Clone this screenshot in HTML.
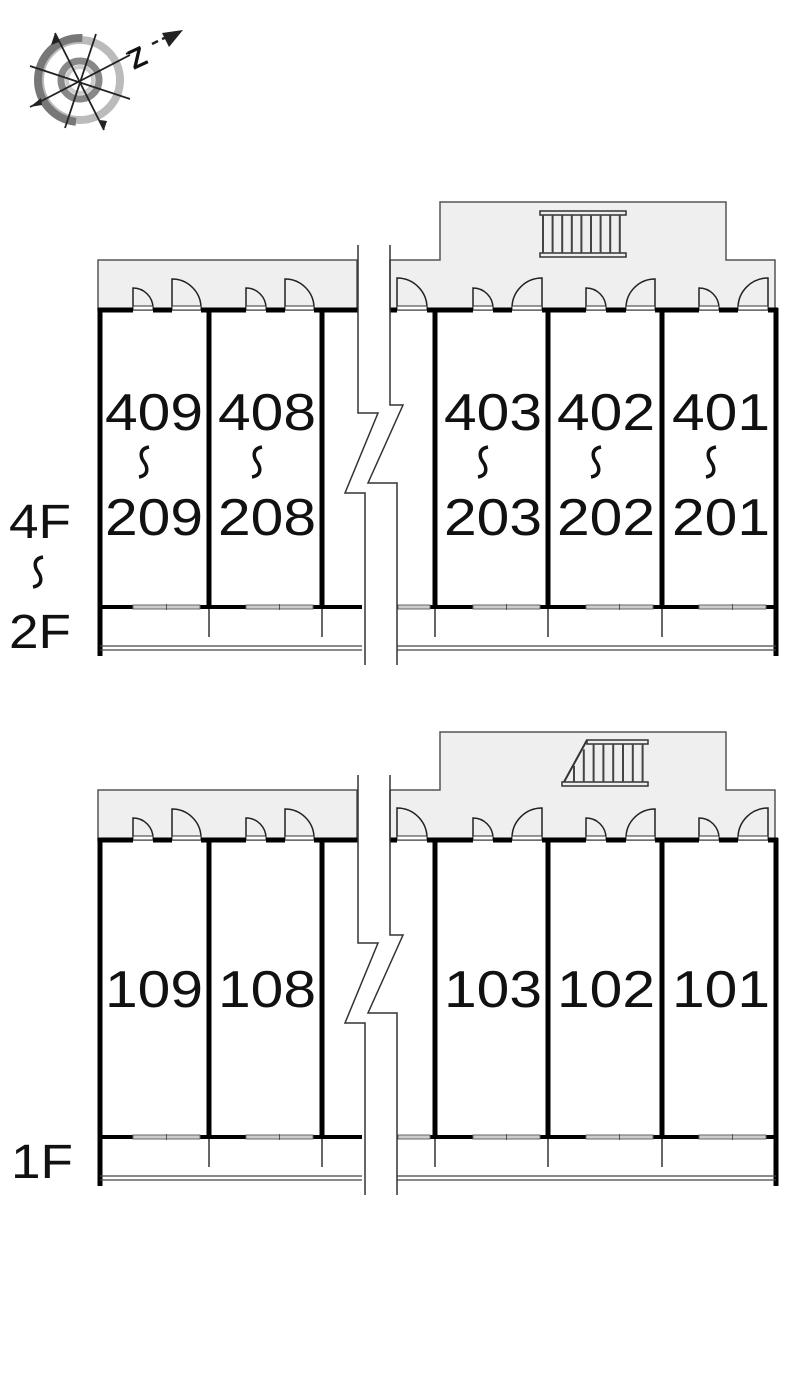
<!DOCTYPE html>
<html><head><meta charset="utf-8"><style>
html,body{margin:0;padding:0;background:#fff;width:800px;height:1373px;overflow:hidden}
svg{display:block}
text{font-family:"Liberation Sans",sans-serif;fill:#111}
</style></head><body>
<svg id="s" width="800" height="1373" viewBox="0 0 800 1373" xmlns="http://www.w3.org/2000/svg">
<!-- compass -->
<circle cx="80" cy="80" r="40" fill="none" stroke="#bbb" stroke-width="8"/>
<circle cx="80" cy="80" r="42" fill="none" stroke="#777" stroke-width="8" stroke-dasharray="0 70 130 200" />
<circle cx="80" cy="80" r="19" fill="none" stroke="#888" stroke-width="7"/>
<circle cx="80" cy="80" r="13" fill="none" stroke="#ccc" stroke-width="4"/>
<g stroke="#222" stroke-width="1.8">
<line x1="55" y1="33" x2="104" y2="130"/>
<line x1="96" y1="34" x2="65" y2="128"/>
<line x1="30" y1="66" x2="130" y2="99"/>
<line x1="30" y1="107" x2="130" y2="55"/>
</g>
<polygon points="55,33 51,45 59,42" fill="#222"/>
<polygon points="104,130 100,120 107,121" fill="#222"/>
<polygon points="30,107 41,98 42,105" fill="#222"/>
<line x1="126" y1="54" x2="136" y2="49" stroke="#222" stroke-width="2"/>
<text x="128" y="66" font-size="28" font-weight="bold" transform="rotate(-25 140 55)">Z</text>
<line x1="152" y1="44" x2="158" y2="41" stroke="#222" stroke-width="2.5"/>
<line x1="162" y1="39" x2="170" y2="36" stroke="#222" stroke-width="2.5"/>
<polygon points="183,30 162,33 169,47" fill="#222"/>
<g id="g"></g>
</svg>
<script>
var g=document.getElementById('g'),h='';
function fl(o,stairDiag,labels){
 var Y=function(y){return y+o};
 h+='<path d="M98 '+Y(260)+'H357V'+Y(310)+'H98Z" fill="#efefef" stroke="#555" stroke-width="1.5"/>';
 h+='<path d="M390 '+Y(310)+'V'+Y(260)+'H440V'+Y(202)+'H726V'+Y(260)+'H775V'+Y(310)+'Z" fill="#efefef" stroke="#555" stroke-width="1.5"/>';
 if(!stairDiag){
  h+='<rect x="540" y="'+Y(211)+'" width="86" height="4" fill="#eee" stroke="#333" stroke-width="1.5"/>';
  h+='<rect x="540" y="'+Y(253)+'" width="86" height="4" fill="#eee" stroke="#333" stroke-width="1.5"/>';
  for(var i=0;i<9;i++){var x=543+i*9.6;h+='<line x1="'+x+'" y1="'+Y(215)+'" x2="'+x+'" y2="'+Y(253)+'" stroke="#444" stroke-width="2"/>';}
 } else {
  h+='<rect x="587" y="'+Y(210)+'" width="61" height="4" fill="#eee" stroke="#333" stroke-width="1.5"/>';
  h+='<rect x="562" y="'+Y(252)+'" width="86" height="4" fill="#eee" stroke="#333" stroke-width="1.5"/>';
  for(var i=0;i<8;i++){var x=574+i*9.8;var yt=x<587?Y(214)+(587-x)*42/25:Y(214);h+='<line x1="'+x+'" y1="'+yt+'" x2="'+x+'" y2="'+Y(252)+'" stroke="#444" stroke-width="2"/>';}
  h+='<line x1="564" y1="'+Y(252)+'" x2="587" y2="'+Y(210)+'" stroke="#333" stroke-width="2"/>';
 }
 function door(x,r,right){var y=Y(308);
  if(!right)h+='<path d="M'+x+' '+y+'V'+(y-r)+'A'+r+' '+r+' 0 0 1 '+(x+r)+' '+y+'" fill="none" stroke="#222" stroke-width="1.5"/>';
  else h+='<path d="M'+(x+r)+' '+y+'V'+(y-r)+'A'+r+' '+r+' 0 0 0 '+x+' '+y+'" fill="none" stroke="#222" stroke-width="1.5"/>';
  h+='<rect x="'+x+'" y="'+(y-2)+'" width="'+r+'" height="4" fill="#fff" stroke="#333" stroke-width="1"/>';}
 door(133,20);door(172,29);door(246,20);door(285,29);door(397,30);
 door(473,20);door(512,30,1);door(586,20);door(626,29,1);door(699,20);door(738,30,1);
 h+='<path d="M98 '+Y(310)+'H133M153 '+Y(310)+'H172M201 '+Y(310)+'H246M266 '+Y(310)+'H285M314 '+Y(310)+'H358M390 '+Y(310)+'H397M427 '+Y(310)+'H473M493 '+Y(310)+'H512M542 '+Y(310)+'H586M606 '+Y(310)+'H626M655 '+Y(310)+'H699M719 '+Y(310)+'H738M768 '+Y(310)+'H778" stroke="#000" stroke-width="5"/>';
 [209,322,435,548,662].forEach(function(x){h+='<line x1="'+x+'" y1="'+Y(308)+'" x2="'+x+'" y2="'+Y(609)+'" stroke="#000" stroke-width="5"/>';h+='<line x1="'+x+'" y1="'+Y(609)+'" x2="'+x+'" y2="'+Y(637)+'" stroke="#333" stroke-width="1.5"/>';});
 h+='<line x1="100" y1="'+Y(308)+'" x2="100" y2="'+Y(656)+'" stroke="#000" stroke-width="5"/>';
 h+='<line x1="776" y1="'+Y(308)+'" x2="776" y2="'+Y(656)+'" stroke="#000" stroke-width="5"/>';
 h+='<path d="M98 '+Y(607)+'H362M398 '+Y(607)+'H778" stroke="#000" stroke-width="4"/>';
 [133,246,473,586,699,398].forEach(function(x){var w=x==398?32:67;h+='<rect x="'+x+'" y="'+Y(605)+'" width="'+w+'" height="4" fill="#ccc" stroke="#666" stroke-width="1"/>';if(w>40)h+='<line x1="'+(x+w/2)+'" y1="'+Y(604)+'" x2="'+(x+w/2)+'" y2="'+Y(610)+'" stroke="#555" stroke-width="1"/>';});
 h+='<path d="M100 '+Y(646)+'H362M100 '+Y(650)+'H362M397 '+Y(646)+'H776M397 '+Y(650)+'H776" stroke="#444" stroke-width="1.2"/>';
 h+='<path d="M359 '+Y(300)+'H389V'+Y(405)+'H403L368 '+Y(483)+'H396V'+Y(664)+'H366V'+Y(493)+'H345L378 '+Y(413)+'H359Z" fill="#fff"/>';
 h+='<path d="M358 '+Y(245)+'V'+Y(413)+'H378L345 '+Y(493)+'H365V'+Y(665)+'" fill="none" stroke="#333" stroke-width="1.5"/>';
 h+='<path d="M390 '+Y(245)+'V'+Y(405)+'H403L368 '+Y(483)+'H397V'+Y(665)+'" fill="none" stroke="#333" stroke-width="1.5"/>';
 labels();
}
function T(x,y,s){h+='<text x="'+(x-49)+'" y="'+y+'" font-size="52" textLength="98" lengthAdjust="spacingAndGlyphs">'+s+'</text>';}
function sq(x,y){h+='<path d="M'+(x+5)+' '+(y-15)+'C'+(x-6)+' '+(y-13)+' '+(x-3)+' '+(y-4)+' '+x+' '+y+'S'+(x+6)+' '+(y+13)+' '+(x-5)+' '+(y+15)+'" fill="none" stroke="#111" stroke-width="3.5"/>';}
fl(0,false,function(){
 [[154,'409','209'],[267,'408','208'],[493,'403','203'],[606,'402','202'],[721,'401','201']].forEach(function(a){T(a[0],430,a[1]);sq(a[0]-10,462);T(a[0],535,a[2]);});
 h+='<text x="9" y="538" font-size="48" textLength="62" lengthAdjust="spacingAndGlyphs">4F</text>';sq(38,572);
 h+='<text x="9" y="648" font-size="48" textLength="62" lengthAdjust="spacingAndGlyphs">2F</text>';
});
fl(530,true,function(){
 [[154,'109'],[267,'108'],[493,'103'],[606,'102'],[721,'101']].forEach(function(a){T(a[0],1007,a[1]);});
 h+='<text x="11" y="1178" font-size="48" textLength="62" lengthAdjust="spacingAndGlyphs">1F</text>';
});
g.innerHTML=h;
</script>
</body></html>
